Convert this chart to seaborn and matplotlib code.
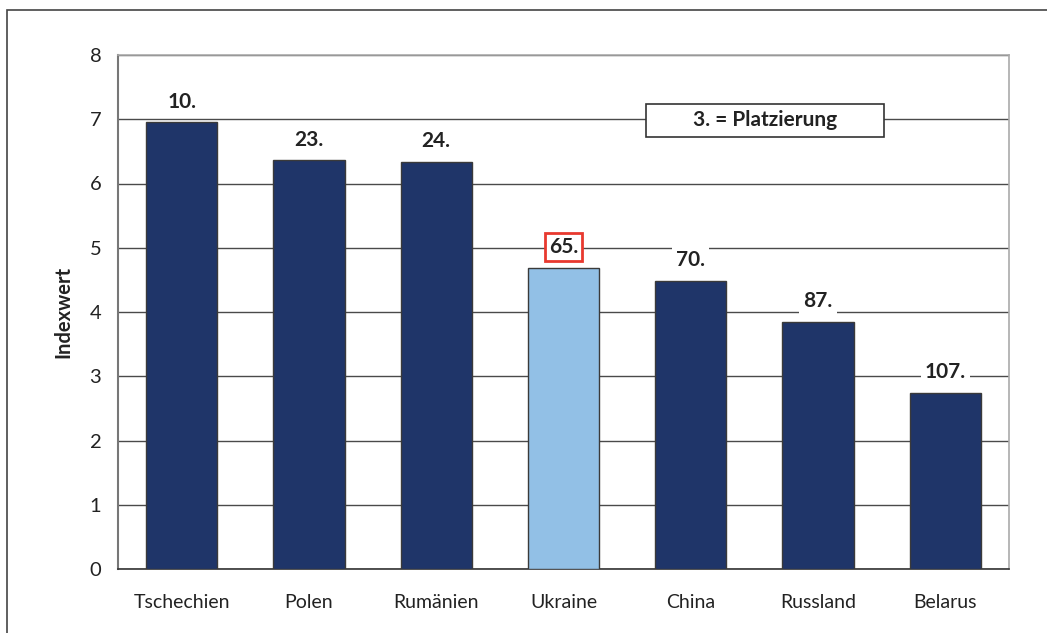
import matplotlib
matplotlib.use("Agg")
import matplotlib.pyplot as plt
import seaborn as sns
import pandas as pd
from matplotlib.patches import Rectangle

# data
countries = ["Tschechien", "Polen", "Rumänien", "Ukraine", "China", "Russland", "Belarus"]
index_values = [6.95, 6.36, 6.33, 4.69, 4.49, 3.84, 2.74]
ranks = ["10.", "23.", "24.", "65.", "70.", "87.", "107."]
highlight = "Ukraine"

dark_blue = "#1F3569"
light_blue = "#92C0E6"

sns.set_theme(style="white")
plt.rcParams["font.family"] = ["Lato", "DejaVu Sans"]

df = pd.DataFrame({"Land": countries, "Indexwert": index_values})
palette = {c: (light_blue if c == highlight else dark_blue) for c in countries}

fig = plt.figure(figsize=(10.47, 6.33), dpi=100)
ax = fig.add_axes([118 / 1047, 1 - 569 / 633, (1009 - 118) / 1047, (569 - 55) / 633])

sns.barplot(data=df, x="Land", y="Indexwert", hue="Land", palette=palette,
            width=0.56, edgecolor="#3a3a3a", linewidth=1.0, saturation=1,
            legend=False, ax=ax, zorder=3)

ax.set_ylim(0, 8)
ax.set_xlim(-0.5, len(countries) - 0.5)
ax.set_yticks(range(0, 9))
ax.yaxis.grid(True, color="#4a4a4a", linewidth=1.0, zorder=0)
ax.set_axisbelow(True)

# ticks sit between the categories, labels in the middle
ax.set_xticks([i + 0.5 for i in range(-1, len(countries))], minor=False)
ax.set_xticklabels([])
ax.set_xticks(range(len(countries)), minor=True)
ax.set_xticklabels(countries, minor=True)
ax.tick_params(axis="x", which="major", direction="out", length=6, color="#333333", width=1)
ax.tick_params(axis="x", which="minor", length=0, pad=18, labelsize=14, labelcolor="#222222")
ax.tick_params(axis="y", direction="out", length=6, color="#555555", width=1,
               labelsize=14.5, labelcolor="#222222", pad=6)

for side in ["top", "right"]:
    ax.spines[side].set_color("#aaaaaa")
    ax.spines[side].set_linewidth(1.2)
ax.spines["left"].set_color("#777777")
ax.spines["left"].set_linewidth(1.5)
ax.spines["bottom"].set_color("#333333")
ax.spines["bottom"].set_linewidth(1.2)

ax.set_xlabel("")
ax.set_ylabel("Indexwert", fontsize=14.5, fontweight="bold", color="#222222", labelpad=12)

# rank labels above the bars
for i, (val, rank) in enumerate(zip(index_values, ranks)):
    is_hl = countries[i] == highlight
    bbox = dict(boxstyle="square,pad=0.2", facecolor="white",
                edgecolor="#e8392f" if is_hl else "white",
                linewidth=2.0 if is_hl else 0)
    ax.annotate(rank, (i, val), xytext=(0, 15), textcoords="offset points",
                ha="center", va="center", fontsize=15, fontweight="bold",
                color="#222222", bbox=bbox, zorder=4)

# "legend" box
ax.add_patch(Rectangle((3.645, 6.73), 1.87, 0.51, facecolor="white",
                       edgecolor="#333333", linewidth=1.2, zorder=5))
ax.text(4.58, 6.985, "3. = Platzierung", ha="center", va="center", fontsize=15,
        fontweight="bold", color="#222222", zorder=6)

# outer frame (runs off the right and bottom edges)
fig.patches.append(Rectangle((7 / 1047, -0.1), 1.2, 1 - 10 / 633 + 0.1,
                             transform=fig.transFigure, fill=False,
                             edgecolor="#444444", linewidth=1.2))

fig.savefig("out.png", dpi=100)
